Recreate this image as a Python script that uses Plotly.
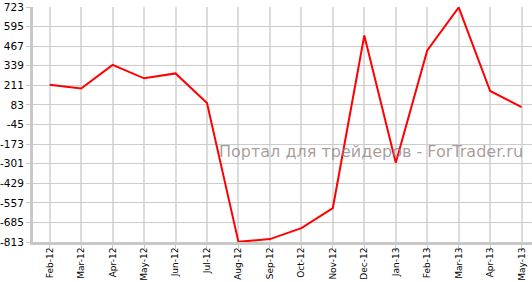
import plotly.graph_objects as go

months = ["Feb-12", "Mar-12", "Apr-12", "May-12", "Jun-12", "Jul-12", "Aug-12", "Sep-12",
          "Oct-12", "Nov-12", "Dec-12", "Jan-13", "Feb-13", "Mar-13", "Apr-13", "May-13"]
values = [215, 190, 345, 257, 289, 95, -812, -794, -722, -591, 537, -295, 439, 720, 174, 69]
y_ticks = [723, 595, 467, 339, 211, 83, -45, -173, -301, -429, -557, -685, -813]
watermark = "Портал для трейдеров - ForTrader.ru"

fig = go.Figure()
fig.add_trace(go.Scatter(x=list(range(len(months))), y=values, mode="lines",
                         line=dict(color="#ff0000", width=2), hoverinfo="skip"))

fig.update_layout(
    width=532, height=282,
    margin=dict(l=33, r=0, t=7, b=40, autoexpand=False),
    paper_bgcolor="white", plot_bgcolor="white",
    showlegend=False,
    font=dict(family="DejaVu Sans", color="#000000", size=10),
    xaxis=dict(
        range=[-0.53, 15.33], automargin=False,
        tickmode="array", tickvals=list(range(len(months))), ticktext=months,
        tickangle=-90, tickfont=dict(size=9), ticklabelstandoff=-5,
        showgrid=True, gridcolor="#dcdcdc", gridwidth=2,
        showline=True, linecolor="#c8c8c8", linewidth=3,
        ticks="outside", ticklen=4, tickcolor="#c8c8c8",
        zeroline=False, fixedrange=True,
    ),
    yaxis=dict(
        range=[-813, 723], automargin=False, ticklabeloverflow="allow",
        tickmode="array", tickvals=y_ticks, ticktext=[str(v) for v in y_ticks],
        tickfont=dict(size=10.5),
        showgrid=True, gridcolor="#cccccc", gridwidth=1,
        showline=True, linecolor="#c8c8c8", linewidth=3,
        ticks="outside", ticklen=4, tickcolor="#c8c8c8",
        zeroline=False, fixedrange=True,
    ),
    annotations=[dict(
        text=watermark, xref="paper", yref="paper", x=0.986, y=0.383,
        xanchor="right", yanchor="middle", showarrow=False,
        font=dict(family="DejaVu Sans", size=16, color="rgba(140,125,125,0.75)"),
    )],
)

fig.write_html("out.html")
